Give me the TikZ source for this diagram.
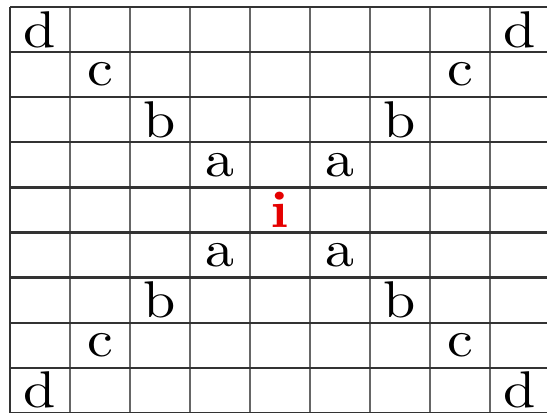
\documentclass[tikz,border=0pt]{standalone}
\usetikzlibrary{positioning}
\newcommand{\cellglyph}[1]{\scalebox{2.75}[2.45]{#1}}
\tikzset{
	colline/.style={draw=black!60, line width=1.2pt},
	rowline/.style={draw=black!80, line width=1.1pt},
	letter/.style={inner sep=0pt, font=\fontsize{10}{12}\selectfont},
	origin/.style={letter, text=red!90!black, font=\fontsize{10}{12}\selectfont\bfseries}
}
\begin{document}
\begin{tikzpicture}[x=1cm,y=-0.7517cm]
	\useasboundingbox (-0.1667,-0.155) rectangle (8.95,9.0);
	% Grid
	\foreach \i in {1,...,8}
		\draw[colline] (\i,0) -- (\i,9);
	\foreach \j in {0,...,9}
		\draw[rowline] (0,\j) -- (9,\j);
	\draw[rowline] (0,0) -- (0,9);
	\draw[rowline] (9,0) -- (9,9);
	% Diagonals
	\foreach \l/\k in {d/0,c/1,b/2,a/3} {
		\node[letter] (\l-1) at (\k+0.5,\k+0.5) {\cellglyph{\l}};
		\node[letter] (\l-2) at (8.5-\k,\k+0.5) {\cellglyph{\l}};
		\node[letter] (\l-3) at (\k+0.5,8.5-\k) {\cellglyph{\l}};
		\node[letter] (\l-4) at (8.5-\k,8.5-\k) {\cellglyph{\l}};
	}
	% Centre
	\node[origin] (i) at (4.5,4.5) {\cellglyph{i}};
\end{tikzpicture}
\end{document}
